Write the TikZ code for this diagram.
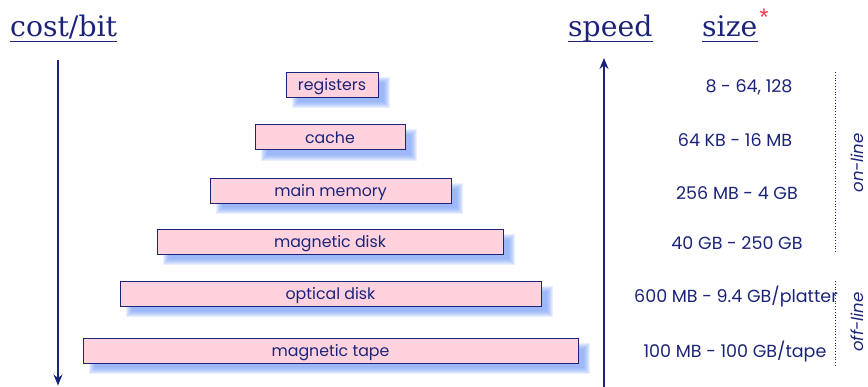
\documentclass[tikz,border=0pt]{standalone}
\usepackage{fontspec}
\setsansfont{Poppins}
\newfontfamily\headfont{DejaVu Serif}
\newfontfamily\starfont{Liberation Sans}
\usetikzlibrary{backgrounds,arrows.meta}
\definecolor{navy}{RGB}{28,36,122}
\definecolor{boxpink}{RGB}{255,210,221}
\definecolor{shadowblue}{RGB}{110,150,245}
\definecolor{starred}{RGB}{245,60,80}
\tikzset{
  level/.style={draw=navy, line width=0.9pt, fill=boxpink, minimum height=25pt,
    inner sep=0pt, text height=12.5pt, text depth=0pt,
    font=\sffamily\fontsize{15.8}{15.8}\selectfont, text=navy},
  sizelabel/.style={font=\sffamily\fontsize{17.5}{17.5}\selectfont, text=navy, inner sep=0pt},
  heading/.style={font=\headfont\fontsize{28.3}{28.3}\selectfont, text=navy, inner sep=0pt},
  axisarrow/.style={draw=navy, line width=1.1pt, -{Stealth[length=11pt,width=9pt,inset=3.5pt]}},
  groupline/.style={draw=navy, line width=0.8pt, dotted},
  grouplabel/.style={font=\sffamily\itshape\fontsize{16.5}{16.5}\selectfont, text=navy, rotate=90, inner sep=0pt}
}
\begin{document}
\begin{tikzpicture}[x=1pt,y=-1pt]
\useasboundingbox (0,0) rectangle (868,387);

% headings with underlines
\node[heading, anchor=base west] (cost) at (10,36.5) {cost/bit};
\node[heading, anchor=base west] (speed) at (568,36.5) {speed};
\node[heading, anchor=base west] (size) at (702,36.5) {size};
\node[text=starred, font=\starfont\fontsize{24}{24}\selectfont, inner sep=0pt] (star) at (764,17) {*};
\draw[navy, line width=1.2pt] (cost.base west) ++(0,5) -- ([yshift=-5pt]cost.base east);
\draw[navy, line width=1.2pt] (speed.base west) ++(0,5) -- ([yshift=-5pt]speed.base east);
\draw[navy, line width=1.2pt] (size.base west) ++(0,5) -- ([yshift=-5pt]size.base east);

% memory hierarchy levels
\node[level, minimum width=92pt]  (reg)  at (332,84.5)  {registers};
\node[level, minimum width=150pt] (cch)  at (330,137)   {cache};
\node[level, minimum width=241pt] (mem)  at (330.5,190.5) {main memory};
\node[level, minimum width=346pt] (disk) at (330,241.5) {magnetic disk};
\node[level, minimum width=421pt] (opt)  at (330.5,293.5) {optical disk};
\node[level, minimum width=495pt] (tape) at (330.5,350.5) {magnetic tape};

% soft drop shadows
\begin{scope}[on background layer]
  \foreach \n in {reg,cch,mem,disk,opt,tape}{
    \foreach \k in {-3,...,3}{
      \fill[shadowblue, opacity=0.15]
        ([shift={(9+\k,8+\k)}]\n.north west) rectangle ([shift={(9-\k,8-\k)}]\n.south east);
    }
  }
\end{scope}

% cost and speed axes
\coordinate (costtop) at (58,60);
\coordinate (costbot) at (58,385.5);
\coordinate (speedbot) at (604,387);
\coordinate (speedtop) at (604,58);
\draw[axisarrow] (costtop) -- (costbot);
\draw[axisarrow] (speedbot) -- (speedtop);

% typical sizes
\node[sizelabel] (s1) at (749,87)  {8 - 64, 128};
\node[sizelabel] (s2) at (735,140) {64 KB - 16 MB};
\node[sizelabel] (s3) at (737,193) {256 MB - 4 GB};
\node[sizelabel] (s4) at (737,243) {40 GB - 250 GB};
\node[sizelabel] (s5) at (736,297) {600 MB - 9.4 GB/platter};
\node[sizelabel] (s6) at (735,352) {100 MB - 100 GB/tape};

% on-line / off-line groups
\coordinate (ona) at (835,72);
\coordinate (onb) at (835,252);
\coordinate (offa) at (835,281);
\coordinate (offb) at (835,366);
\draw[groupline] (ona) -- (onb);
\draw[groupline] (offa) -- (offb);
\node[grouplabel] (online) at (857,163) {on-line};
\node[grouplabel] (offline) at (857,322) {off-line};
\end{tikzpicture}
\end{document}
